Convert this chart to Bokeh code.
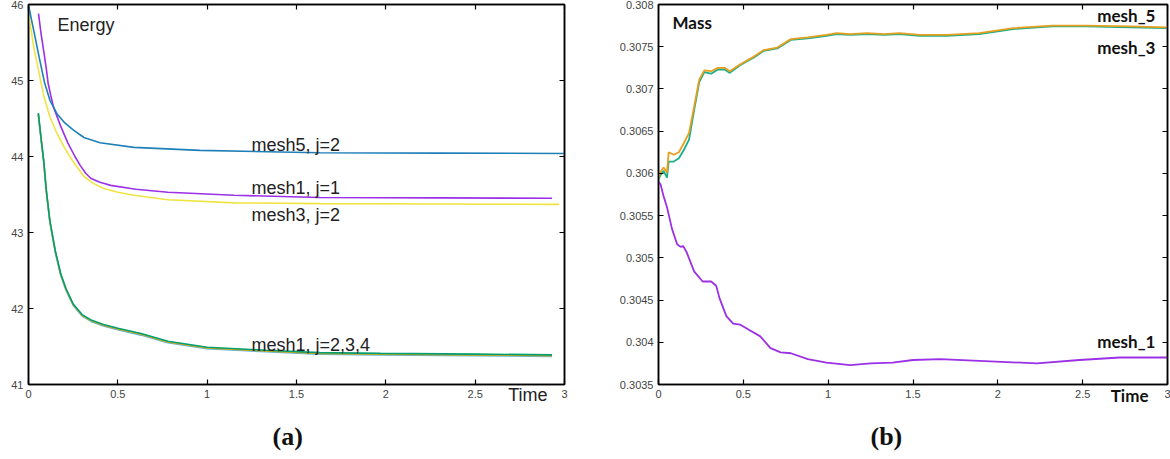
from bokeh.plotting import figure
from bokeh.layouts import row
from bokeh.models import Range1d, LinearAxis, FixedTicker, Label, Title
from bokeh.embed import file_html
from bokeh.resources import INLINE

# ---------------- data: (a) Energy ----------------
X_TICKS = [0, 0.5, 1, 1.5, 2, 2.5, 3]
X_TICK_LABELS = ["0", "0.5", "1", "1.5", "2", "2.5", "3"]
E_TICKS = [41, 42, 43, 44, 45, 46]
E_TICK_LABELS = ["41", "42", "43", "44", "45", "46"]

E_T_MESH5 = [0.0, 0.03, 0.06, 0.09, 0.12, 0.16, 0.20, 0.25, 0.31, 0.40, 0.59, 0.96, 1.63, 2.3, 3.0]
E_MESH5_J2 = [45.99, 45.65, 45.30, 44.97, 44.74, 44.56, 44.45, 44.35, 44.25, 44.18, 44.12, 44.08, 44.05, 44.045, 44.04]

E_T_MESH1_J1 = [0.056, 0.07, 0.085, 0.10, 0.11, 0.125, 0.14, 0.18, 0.22, 0.26, 0.29, 0.32, 0.35, 0.40, 0.46,
                0.60, 0.78, 1.15, 1.63, 2.3, 2.93]
E_MESH1_J1 = [45.88, 45.62, 45.39, 45.15, 44.96, 44.80, 44.65, 44.40, 44.18, 44.00, 43.88, 43.78, 43.71, 43.66,
              43.62, 43.57, 43.53, 43.49, 43.46, 43.455, 43.45]

E_T_MESH3 = [0.0, 0.03, 0.06, 0.085, 0.12, 0.16, 0.20, 0.25, 0.31, 0.36, 0.42, 0.50, 0.59, 0.78, 1.15, 1.63,
             2.3, 2.97]
E_MESH3_J2 = [45.88, 45.43, 45.09, 44.80, 44.52, 44.30, 44.12, 43.93, 43.74, 43.65, 43.58, 43.53, 43.49, 43.43,
              43.39, 43.38, 43.375, 43.37]

E_T_MESH1_B = [0.055, 0.07, 0.085, 0.10, 0.12, 0.15, 0.18, 0.21, 0.25, 0.30, 0.35, 0.42, 0.50, 0.63, 0.78, 1.0,
               1.33, 1.63, 1.97, 2.5, 2.93]
E_MESH1_J2 = [44.57, 44.25, 43.95, 43.55, 43.15, 42.76, 42.46, 42.26, 42.06, 41.92, 41.85, 41.79, 41.74, 41.67,
              41.57, 41.49, 41.45, 41.42, 41.41, 41.40, 41.39]
E_MESH1_J3 = [44.55, 44.23, 43.93, 43.53, 43.13, 42.74, 42.44, 42.24, 42.04, 41.90, 41.83, 41.77, 41.72, 41.65,
              41.55, 41.47, 41.43, 41.40, 41.39, 41.38, 41.37]
E_MESH1_J4 = [44.56, 44.24, 43.94, 43.54, 43.14, 42.75, 42.45, 42.25, 42.05, 41.91, 41.84, 41.78, 41.73, 41.66,
              41.56, 41.48, 41.44, 41.41, 41.40, 41.39, 41.38]

# ---------------- data: (b) Mass ----------------
M_TICKS = [0.3035, 0.304, 0.3045, 0.305, 0.3055, 0.306, 0.3065, 0.307, 0.3075, 0.308]
M_TICK_LABELS = ["0.3035", "0.304", "0.3045", "0.305", "0.3055", "0.306", "0.3065", "0.307", "0.3075", "0.308"]

M_T35 = [0.0, 0.012, 0.03, 0.05, 0.06, 0.09, 0.12, 0.15, 0.18, 0.21, 0.24, 0.27, 0.31, 0.35, 0.39, 0.42,
         0.48, 0.56, 0.62, 0.70, 0.78, 0.88, 0.99, 1.05, 1.13, 1.23, 1.33, 1.42, 1.54, 1.70, 1.89, 2.09,
         2.32, 2.52, 2.78, 3.0]
M_MESH5 = [0.30595, 0.30602, 0.30607, 0.30601, 0.30625, 0.30622, 0.30625, 0.30636, 0.30648, 0.30679,
           0.30711, 0.30722, 0.30721, 0.30725, 0.30725, 0.30721, 0.30729, 0.30738, 0.30746, 0.30749,
           0.30759, 0.30761, 0.30764, 0.30766, 0.30765, 0.30766, 0.30765, 0.30766, 0.30764, 0.30764,
           0.30766, 0.30772, 0.30775, 0.30775, 0.30774, 0.30773]
M_MESH3 = [0.30593, 0.30598, 0.30603, 0.30595, 0.30614, 0.30614, 0.30618, 0.30628, 0.30640, 0.30675,
           0.30708, 0.30720, 0.30718, 0.30723, 0.30723, 0.30719, 0.30728, 0.30737, 0.30745, 0.30748,
           0.30758, 0.30760, 0.30763, 0.30765, 0.30764, 0.30765, 0.30764, 0.30765, 0.30763, 0.30763,
           0.30765, 0.30771, 0.30774, 0.30774, 0.30773, 0.30772]

M_T1 = [0.0, 0.012, 0.03, 0.05, 0.08, 0.11, 0.13, 0.145, 0.165, 0.21, 0.26, 0.31, 0.34, 0.36, 0.40, 0.44,
        0.48, 0.54, 0.60, 0.66, 0.72, 0.78, 0.88, 0.99, 1.13, 1.25, 1.38, 1.50, 1.66, 1.89, 2.23, 2.48,
        2.72, 3.0]
M_MESH1 = [0.30590, 0.30587, 0.30573, 0.30560, 0.30534, 0.30516, 0.30513, 0.30514, 0.30507, 0.30484,
           0.30472, 0.30472, 0.30467, 0.30452, 0.30431, 0.30422, 0.30421, 0.30414, 0.30407, 0.30393,
           0.30388, 0.30387, 0.30380, 0.30376, 0.30373, 0.30375, 0.30376, 0.30379, 0.30380, 0.30378,
           0.30375, 0.30379, 0.30382, 0.30382]

TICK_FONT = "Liberation Sans"
TICK_COLOR = "#444444"


def style_axis(ax, ticks, labels, show_labels):
    ax.ticker = FixedTicker(ticks=ticks)
    ax.major_tick_in = 5
    ax.major_tick_out = 0
    ax.minor_tick_line_color = None
    ax.axis_line_color = "black"
    ax.axis_line_width = 1.5
    ax.major_tick_line_color = "black"
    ax.major_tick_line_width = 1.2
    ax.major_label_text_font = TICK_FONT
    if show_labels:
        ax.major_label_overrides = {t: l for t, l in zip(ticks, labels)}
        ax.major_label_text_color = TICK_COLOR
        ax.major_label_text_font_size = "11px"
        ax.major_label_standoff = 5
    else:
        ax.major_label_text_color = None
        ax.major_label_text_alpha = 0
        ax.major_label_text_font_size = "0px"
        ax.major_label_standoff = 0


def make_fig(width, xr, yr, yticks, ylabels, left, right):
    p = figure(width=width, height=459, x_range=xr, y_range=yr,
               output_backend="svg", toolbar_location=None,
               min_border_left=left, min_border_right=right,
               min_border_top=4, min_border_bottom=75)
    p.xgrid.visible = False
    p.ygrid.visible = False
    p.outline_line_color = "black"
    p.outline_line_width = 1.5
    p.background_fill_color = "white"
    p.border_fill_color = "white"
    style_axis(p.below[0], X_TICKS, X_TICK_LABELS, True)
    style_axis(p.left[0], yticks, ylabels, True)
    top = LinearAxis()
    style_axis(top, X_TICKS, X_TICK_LABELS, False)
    p.add_layout(top, "above")
    rgt = LinearAxis()
    style_axis(rgt, yticks, ylabels, False)
    p.add_layout(rgt, "right")
    return p


def time_label(p, inset, font, style, size, color):
    p.add_layout(Title(text="Time", align="right", vertical_align="top", offset=inset,
                       text_font=font, text_font_style=style, text_font_size=size,
                       text_color=color, standoff=-32), "below")


def caption(p, text, offset):
    p.add_layout(Title(text=text, align="left", vertical_align="bottom", offset=offset,
                       text_font="Liberation Serif", text_font_style="bold",
                       text_font_size="26px", text_color="#111111", standoff=-100), "below")


# ---------------- (a) ----------------
p1 = make_fig(580, Range1d(0, 3), Range1d(41, 46), E_TICKS, E_TICK_LABELS, 28, 16)
p1.line(E_T_MESH1_B, E_MESH1_J3, line_color="#56b4e9", line_width=1.6)
p1.line(E_T_MESH1_B, E_MESH1_J4, line_color="#e6a800", line_width=1.6)
p1.line(E_T_MESH1_B, E_MESH1_J2, line_color="#009e73", line_width=1.6)
p1.line(E_T_MESH3, E_MESH3_J2, line_color="#f0e442", line_width=1.6)
p1.line(E_T_MESH1_J1, E_MESH1_J1, line_color="#9b30e6", line_width=1.6)
p1.line(E_T_MESH5, E_MESH5_J2, line_color="#1f7fb8", line_width=1.6)

LAB_FONT = "Liberation Sans"
for txt, x, y in [("Energy", 0.162, 45.73), ("mesh5, j=2", 1.248, 44.15),
                  ("mesh1, j=1", 1.248, 43.585), ("mesh3, j=2", 1.248, 43.23),
                  ("mesh1, j=2,3,4", 1.248, 41.52)]:
    p1.add_layout(Label(x=x, y=y, text=txt, text_font=LAB_FONT, text_font_size="18px",
                        text_color="#222222", text_baseline="alphabetic", text_align="left"))
time_label(p1, 17, LAB_FONT, "normal", "18px", "#222222")
caption(p1, "(a)", 244)

# ---------------- (b) ----------------
p2 = make_fig(590, Range1d(0, 3), Range1d(0.3035, 0.308), M_TICKS, M_TICK_LABELS, 78, 3)
p2.line(M_T1, M_MESH1, line_color="#9b30e6", line_width=1.8)
p2.line(M_T35, M_MESH3, line_color="#1aae8a", line_width=1.8)
p2.line(M_T35, M_MESH5, line_color="#e6a020", line_width=1.8)

B_FONT = "Lato"
p2.add_layout(Label(x=0.0825, y=0.30779, text="Mass", text_font=B_FONT, text_font_style="bold",
                    text_font_size="17px", text_color="#111111", text_align="left", text_baseline="middle"))
for txt, y in [("mesh_5", 0.30787), ("mesh_3", 0.307494), ("mesh_1", 0.304012)]:
    p2.add_layout(Label(x=2.929, y=y, text=txt, text_font=B_FONT, text_font_style="bold",
                        text_font_size="17px", text_color="#111111", text_align="right",
                        text_baseline="middle"))
time_label(p2, 19, B_FONT, "bold", "17px", "#111111")
caption(p2, "(b)", 212)

layout = row(p1, p2)
open("out.html", "w").write(file_html(layout, INLINE))
